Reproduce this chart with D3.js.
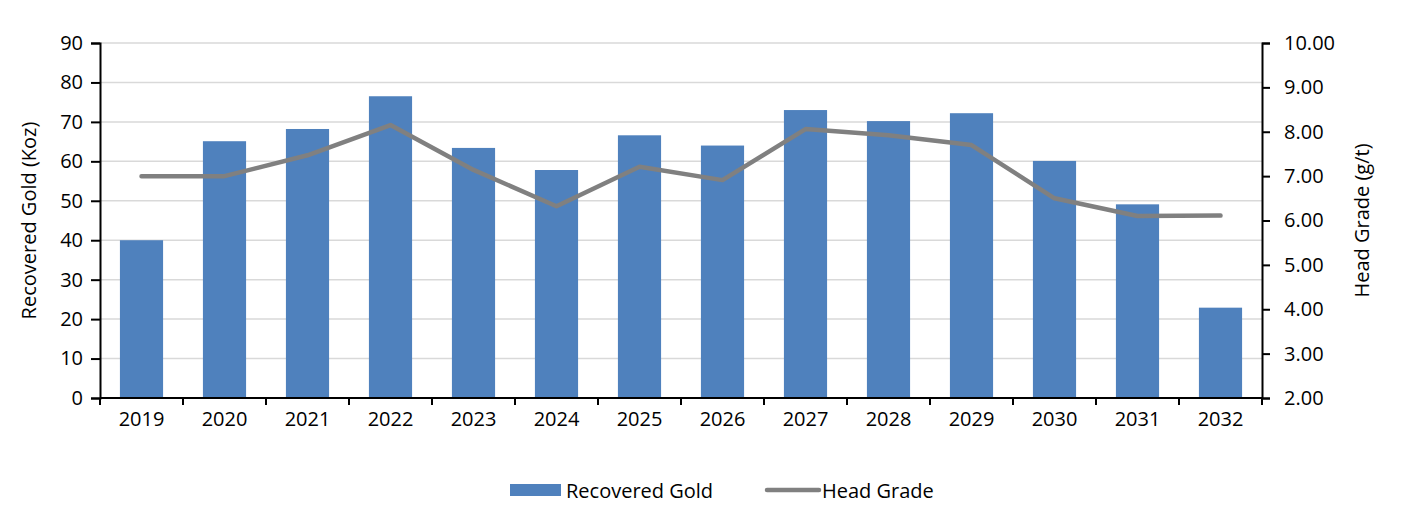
<!DOCTYPE html>
<html>
<head>
<meta charset="utf-8">
<script src="https://cdn.jsdelivr.net/npm/d3@7"></script>
<style>
  body { margin: 0; background: #fff; }
  text { font-family: "Open Sans", "Noto Sans", sans-serif; fill: #000; }
</style>
</head>
<body>
<script>
var years = ['2019', '2020', '2021', '2022', '2023', '2024', '2025', '2026', '2027', '2028', '2029', '2030', '2031', '2032'];
var recoveredGold = [40.0, 65.1, 68.2, 76.5, 63.4, 57.8, 66.6, 64.0, 73.0, 70.2, 72.2, 60.1, 49.1, 22.9];
var headGrade = [7.00, 7.00, 7.47, 8.15, 7.14, 6.32, 7.21, 6.91, 8.06, 7.92, 7.70, 6.50, 6.10, 6.11];
var leftTicks = [0, 10, 20, 30, 40, 50, 60, 70, 80, 90];
var rightTicks = [2, 3, 4, 5, 6, 7, 8, 9, 10];

var W = 1402, H = 517;
var plotL = 100, plotR = 1262, plotT = 43, plotB = 398;
var fs = 20;

var svg = d3.select('body').append('svg').attr('width', W).attr('height', H);

var x = d3.scaleBand().domain(years).range([plotL, plotR]);
var yL = d3.scaleLinear().domain([0, 90]).range([plotB, plotT]);
var yR = d3.scaleLinear().domain([2, 10]).range([plotB, plotT]);
var barW = x.bandwidth() * 0.52;

/*GRIDLINES*/
svg.append('g').selectAll('line')
    .data(leftTicks.slice(1))
    .enter().append('line')
        .attr('x1', plotL).attr('x2', plotR)
        .attr('y1', function(d) { return yL(d); })
        .attr('y2', function(d) { return yL(d); })
        .attr('stroke', '#d9d9d9').attr('stroke-width', 1.5);

/*BARS*/
svg.append('g').selectAll('rect')
    .data(recoveredGold)
    .enter().append('rect')
        .attr('x', function(d, i) { return x(years[i]) + (x.bandwidth() - barW) / 2; })
        .attr('y', function(d) { return yL(d); })
        .attr('width', barW)
        .attr('height', function(d) { return plotB - yL(d); })
        .attr('fill', '#4f81bd');

/*LINE*/
var line = d3.line()
    .x(function(d, i) { return x(years[i]) + x.bandwidth() / 2; })
    .y(function(d) { return yR(d); });
svg.append('path')
    .datum(headGrade)
    .attr('d', line)
    .attr('fill', 'none')
    .attr('stroke', '#808080')
    .attr('stroke-width', 4.5)
    .attr('stroke-linecap', 'round')
    .attr('stroke-linejoin', 'round');

/*AXES*/
var axisL = svg.append('g').attr('transform', 'translate(' + plotL + ',0)')
    .call(d3.axisLeft(yL).tickValues(leftTicks).tickSize(9).tickPadding(8));
var axisR = svg.append('g').attr('transform', 'translate(' + plotR + ',0)')
    .call(d3.axisRight(yR).tickValues(rightTicks).tickSize(8).tickPadding(14).tickFormat(d3.format('.2f')));
var axisB = svg.append('g').attr('transform', 'translate(0,' + plotB + ')')
    .call(d3.axisBottom(x).tickSize(0).tickPadding(14));

// category boundary ticks
svg.append('g').selectAll('line')
    .data(years.concat(['end']))
    .enter().append('line')
        .attr('x1', function(d, i) { return plotL + i * x.step(); })
        .attr('x2', function(d, i) { return plotL + i * x.step(); })
        .attr('y1', plotB).attr('y2', plotB + 7)
        .attr('stroke', '#000').attr('stroke-width', 2);

[axisL, axisR, axisB].forEach(function(a) {
    a.selectAll('.domain').attr('stroke', '#000').attr('stroke-width', 2);
    a.selectAll('.tick line').attr('stroke', '#000').attr('stroke-width', 2);
    a.selectAll('text').attr('font-size', fs).attr('fill', '#000')
        .style('font-family', '"Open Sans", sans-serif');
});
axisB.select('.domain').attr('d', 'M' + plotL + ',0H' + plotR);
axisR.selectAll('text').attr('text-anchor', 'start');

/*AXIS TITLES*/
svg.append('text')
    .attr('transform', 'translate(36,' + (plotT + plotB) / 2 + ') rotate(-90)')
    .attr('text-anchor', 'middle')
    .attr('font-size', fs)
    .text('Recovered Gold (Koz)');
svg.append('text')
    .attr('transform', 'translate(1369,' + (plotT + plotB) / 2 + ') rotate(-90)')
    .attr('text-anchor', 'middle')
    .attr('font-size', fs)
    .text('Head Grade (g/t)');

/*LEGEND*/
var legend = svg.append('g').attr('transform', 'translate(0,490)');
legend.append('rect').attr('x', 510).attr('y', -6).attr('width', 51).attr('height', 12).attr('fill', '#4f81bd');
legend.append('text').attr('x', 566).attr('y', 0).attr('dominant-baseline', 'central')
    .attr('font-size', fs).text('Recovered Gold');
legend.append('line').attr('x1', 767).attr('x2', 819).attr('y1', 0).attr('y2', 0)
    .attr('stroke', '#808080').attr('stroke-width', 4.5).attr('stroke-linecap', 'round');
legend.append('text').attr('x', 822).attr('y', 0).attr('dominant-baseline', 'central')
    .attr('font-size', fs).text('Head Grade');
</script>
</body>
</html>
